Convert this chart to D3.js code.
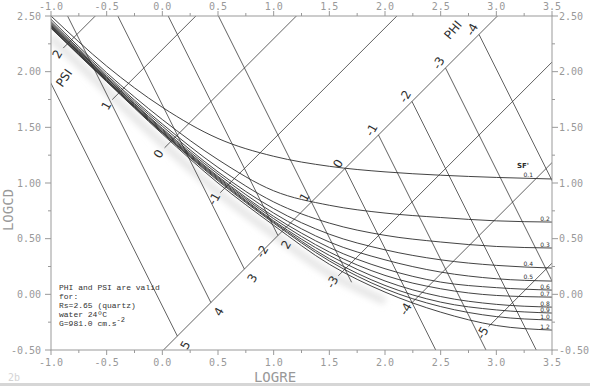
<!DOCTYPE html>
<html>
<head>
<meta charset="utf-8">
<script src="https://cdn.jsdelivr.net/npm/d3@7"></script>
<style>
  body { margin: 0; background: #fff; }
  svg { display: block; }
</style>
</head>
<body>
<script>
const logRe = [-1, -0.5, 0, 0.5, 1, 1.5, 2, 2.5, 3, 3.5];

// log Cd of each shape-factor curve at those positions
const sfNames = ["0.1", "0.2", "0.3", "0.4", "0.5", "0.6", "0.7", "0.8", "0.9", "1.0", "1.2"];
const sf01 = [2.50, 2.05, 1.68, 1.40, 1.24, 1.15, 1.10, 1.07, 1.05, 1.036];
const sf02 = [2.47, 1.99, 1.57, 1.21, 0.93, 0.80, 0.73, 0.69, 0.66, 0.649];
const sf03 = [2.45, 1.97, 1.53, 1.14, 0.83, 0.64, 0.53, 0.47, 0.43, 0.416];
const sf04 = [2.44, 1.955, 1.51, 1.10, 0.77, 0.54, 0.40, 0.31, 0.26, 0.236];
const sf05 = [2.43, 1.945, 1.49, 1.08, 0.73, 0.47, 0.31, 0.20, 0.14, 0.119];
const sf06 = [2.42, 1.94, 1.48, 1.06, 0.70, 0.42, 0.23, 0.11, 0.06, 0.038];
const sf07 = [2.415, 1.93, 1.47, 1.05, 0.68, 0.38, 0.17, 0.05, -0.01, -0.025];
const sf08 = [2.41, 1.925, 1.46, 1.04, 0.66, 0.35, 0.12, -0.02, -0.09, -0.115];
const sf09 = [2.40, 1.92, 1.455, 1.03, 0.65, 0.32, 0.08, -0.07, -0.14, -0.168];
const sf10 = [2.395, 1.915, 1.45, 1.02, 0.64, 0.30, 0.05, -0.11, -0.20, -0.231];
const sf12 = [2.39, 1.91, 1.44, 1.00, 0.62, 0.27, 0.02, -0.16, -0.28, -0.321];
const sfCurves = [sf01, sf02, sf03, sf04, sf05, sf06, sf07, sf08, sf09, sf10, sf12];

// PHI lines (constant grain size): log Cd = intercept - 2 log Re
const phiValues    = [5, 4, 3, 2, 1, 0, -1, -2, -3, -4];
const phiIntercept = [-0.105, 0.798, 1.701, 2.605, 3.508, 4.411, 5.314, 6.217, 7.120, 8.023];
const phiFrom      = [-1.5, -1.5, -1.5, -1.5, -1.5, 1.640, 1.941, 2.242, 2.544, 2.845];
const phiTo        = [0.135, 0.436, 0.737, 1.038, 1.70, 4.0, 4.0, 4.0, 4.0, 4.0];

// PSI lines (constant settling velocity): log Cd = intercept + log Re
const psiValues    = [2, 1, 0, -1, -2, -3, -4, -5];
const psiIntercept = [3.102, 2.199, 1.296, 0.393, -0.510, -1.414, -2.317, -3.220];
const psiFrom      = [-0.89, -0.45, 0.02, 0.52, -0.2, 1.58, 2.24, 2.93];
const psiLabelAt   = [-0.89, -0.45, 0.02, 0.52, 0.95, 1.58, 2.24, 2.93];

const xTicks = [-1.0, -0.5, 0.0, 0.5, 1.0, 1.5, 2.0, 2.5, 3.0, 3.5];
const yTicks = [-0.5, 0.0, 0.5, 1.0, 1.5, 2.0, 2.5];

const noteLines = ["PHI and PSI are valid", "for:", "Rs=2.65 (quartz)", "water 24ºC", "G=981.0 cm.s"];

const W = 590, H = 386;
const x = d3.scaleLinear().domain([-1, 3.5]).range([51, 552]);
const y = d3.scaleLinear().domain([-0.5, 2.5]).range([350, 16]);

const AXIS = "#999";
const INK = "#2e2e2e";
const MONO = "'DejaVu Sans Mono', 'Liberation Mono', monospace";

const svg = d3.select("body").append("svg")
    .attr("width", W)
    .attr("height", H);

svg.append("rect").attr("width", W).attr("height", H).attr("fill", "#fff");
// scanner edge at the bottom
svg.append("rect").attr("x", 0).attr("y", 383).attr("width", W).attr("height", 3).attr("fill", "#d6d6d6");

svg.append("clipPath").attr("id", "plot")
    .append("rect")
    .attr("x", x(-1)).attr("y", y(2.5))
    .attr("width", x(3.5) - x(-1)).attr("height", y(-0.5) - y(2.5));

const plot = svg.append("g").attr("clip-path", "url(#plot)");

// faint scan shadow under the curve bundle
svg.append("filter").attr("id", "blur").append("feGaussianBlur").attr("stdDeviation", 3);
plot.append("path")
    .attr("d", d3.line().x((d, i) => x(logRe[i])).y(d => y(d) + 9).curve(d3.curveMonotoneX)(sf12.slice(0, 7)))
    .attr("fill", "none").attr("stroke", "#e6e6e6").attr("stroke-width", 8)
    .attr("filter", "url(#blur)");

// ---- PHI lines
const lineGen = d3.line().x(d => x(d[0])).y(d => y(d[1]));
phiValues.forEach((p, i) => {
    const a = phiIntercept[i];
    const pts = [[phiFrom[i], a - 2 * phiFrom[i]], [phiTo[i], a - 2 * phiTo[i]]];
    plot.append("path").attr("d", lineGen(pts))
        .attr("fill", "none").attr("stroke", "#3a3a3a").attr("stroke-width", 0.8);
});

// ---- PSI lines
psiValues.forEach((p, i) => {
    const b = psiIntercept[i];
    const pts = [[psiFrom[i], b + psiFrom[i]], [4.5, b + 4.5]];
    plot.append("path").attr("d", lineGen(pts))
        .attr("fill", "none").attr("stroke", "#3a3a3a").attr("stroke-width", 0.8);
});

// ---- SF curves
const curveGen = d3.line()
    .x((d, i) => x(logRe[i]))
    .y(d => y(d))
    .curve(d3.curveMonotoneX);

plot.selectAll("path.sf")
    .data(sfCurves)
    .join("path")
    .attr("class", "sf")
    .attr("d", curveGen)
    .attr("fill", "none")
    .attr("stroke", INK)
    .attr("stroke-width", 0.9);

// ---- axes frame
const frame = svg.append("g").attr("stroke", AXIS).attr("stroke-width", 1).attr("fill", "none");
frame.append("rect")
    .attr("x", x(-1)).attr("y", y(2.5))
    .attr("width", x(3.5) - x(-1)).attr("height", y(-0.5) - y(2.5));

const minorX = d3.range(-1, 3.5001, 0.25);
const minorY = d3.range(-0.5, 2.5001, 0.25);
minorX.forEach(v => {
    const len = Math.abs(v * 2 - Math.round(v * 2)) < 1e-6 ? 5 : 3;
    frame.append("line").attr("x1", x(v)).attr("x2", x(v)).attr("y1", y(2.5)).attr("y2", y(2.5) - len);
    frame.append("line").attr("x1", x(v)).attr("x2", x(v)).attr("y1", y(-0.5)).attr("y2", y(-0.5) + len);
});
minorY.forEach(v => {
    const len = Math.abs(v * 2 - Math.round(v * 2)) < 1e-6 ? 6 : 3;
    frame.append("line").attr("y1", y(v)).attr("y2", y(v)).attr("x1", x(-1)).attr("x2", x(-1) - len);
    frame.append("line").attr("y1", y(v)).attr("y2", y(v)).attr("x1", x(3.5)).attr("x2", x(3.5) + len);
});

const tickText = svg.append("g")
    .attr("font-family", MONO).attr("font-size", 10).attr("fill", AXIS);

xTicks.forEach(v => {
    tickText.append("text").attr("x", x(v)).attr("y", 10).attr("text-anchor", "middle").text(v.toFixed(1));
    tickText.append("text").attr("x", x(v)).attr("y", 366).attr("text-anchor", "middle").text(v.toFixed(1));
});
yTicks.forEach(v => {
    tickText.append("text").attr("x", 41).attr("y", y(v) + 3.5).attr("text-anchor", "end").text(v.toFixed(2));
    tickText.append("text").attr("x", 559).attr("y", y(v) + 3.5).attr("text-anchor", "start").text(v.toFixed(2));
});

// axis titles
svg.append("text").attr("x", 275).attr("y", 382)
    .attr("text-anchor", "middle").attr("font-family", MONO).attr("font-size", 14)
    .attr("fill", AXIS).text("LOGRE");
svg.append("text").attr("transform", "translate(13,210) rotate(-90)")
    .attr("text-anchor", "middle").attr("font-family", MONO).attr("font-size", 14)
    .attr("fill", AXIS).text("LOGCD");
svg.append("text").attr("x", 8).attr("y", 381)
    .attr("font-family", MONO).attr("font-size", 10).attr("fill", "#d4d4d4").text("2b");

// ---- line labels
const lab = svg.append("g")
    .attr("font-family", "'DejaVu Sans', sans-serif").attr("font-size", 12).attr("fill", INK)
    .attr("text-anchor", "middle");

const psiMinus2 = psiIntercept[psiValues.indexOf(-2)];
phiValues.forEach((p, i) => {
    const cx = (phiIntercept[i] - psiMinus2) / 3;
    const cy = psiMinus2 + cx;
    const off = p <= 1 ? [-7, -5] : [8, 9];
    lab.append("text")
        .attr("transform", `translate(${x(cx) + off[0]},${y(cy) + off[1]}) rotate(-60)`)
        .attr("dy", "0.35em")
        .text(p);
});
psiValues.forEach((p, i) => {
    const lx = psiLabelAt[i];
    const ly = psiIntercept[i] + lx;
    lab.append("text")
        .attr("transform", `translate(${x(lx) - 6},${y(ly) + 6}) rotate(-60)`)
        .attr("dy", "0.35em")
        .text(p);
});
lab.append("text").attr("transform", "translate(64,78) rotate(-55)").attr("dy", "0.35em").text("PSI");
lab.append("text").attr("transform", "translate(453,30) rotate(-50)").attr("dy", "0.35em").text("PHI");

// ---- SF labels at the right end of the curves
const sfLabelEnd = [3.33, 3.48, 3.48, 3.33, 3.33, 3.48, 3.48, 3.48, 3.48, 3.48, 3.48];
const sfLab = svg.append("g")
    .attr("font-family", "'DejaVu Sans', sans-serif").attr("font-size", 6).attr("fill", INK)
    .attr("text-anchor", "end");
sfCurves.forEach((c, i) => {
    const lx = sfLabelEnd[i];
    const k = d3.bisectLeft(logRe, lx);
    const t = (lx - logRe[k - 1]) / (logRe[k] - logRe[k - 1]);
    const ly = c[k - 1] + t * (c[k] - c[k - 1]);
    sfLab.append("text").attr("x", x(lx)).attr("y", y(ly) - 1).text(sfNames[i]);
});
sfLab.append("text").attr("x", 517).attr("y", 168).attr("text-anchor", "start")
    .attr("font-size", 7).attr("font-weight", "bold").text("SF'");

// ---- note
const note = svg.append("text")
    .attr("font-family", "'Liberation Mono', monospace").attr("font-size", 8).attr("fill", "#333");
noteLines.forEach((t, i) => {
    note.append("tspan").attr("x", 59).attr("y", 290 + i * 9).text(t);
});
note.append("tspan").attr("dy", -4).attr("font-size", 7).text("-2");
</script>
</body>
</html>
